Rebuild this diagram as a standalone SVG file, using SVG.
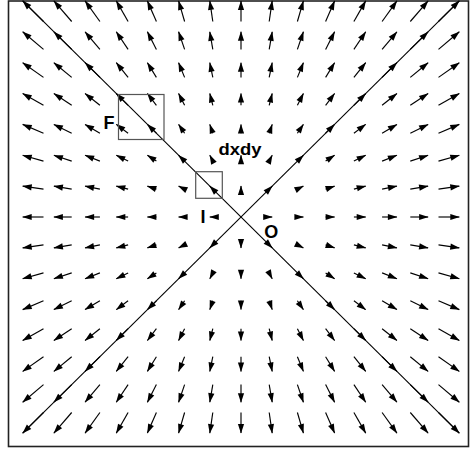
<svg xmlns="http://www.w3.org/2000/svg" width="470" height="453" viewBox="0 0 470 453">
<style>
.f path{stroke:#000;stroke-width:1.15;fill:none;marker-end:url(#ah)}
.sep line{stroke:#000;stroke-width:1.1}
.box{fill:none;stroke:#555;stroke-width:1.2}
.lbl{font-family:"Liberation Sans",Arial,sans-serif;font-weight:bold;font-size:18px;fill:#000}
</style>
<defs>
<marker id="ah" markerUnits="userSpaceOnUse" markerWidth="12" markerHeight="8" viewBox="-10 -4 12 8" refX="0" refY="0" orient="auto" overflow="visible">
<path d="M0.5 0L-9 -3.1L-9 3.1Z" fill="#000"/>
</marker>
</defs>
<rect width="470" height="453" fill="#fff"/>
<rect id="frame" x="8.5" y="1" width="460" height="445.5" fill="none" stroke="#222" stroke-width="1.6"/>
<g id="field" class="f">
<path d="M43.5 21.5L22.7 .9"/><path d="M71.7 21.5L53.9 .9"/><path d="M99.9 21.5L85.1 .9"/><path d="M128.1 21.5L116.3 .9"/><path d="M156.4 21.5L147.4 .9"/><path d="M184.6 21.5L178.6 .9"/><path d="M212.8 21.5L209.8 .9"/><path d="M241 21.5L241 .9"/><path d="M269.2 21.5L272.2 .9"/><path d="M297.4 21.5L303.4 .9"/><path d="M325.6 21.5L334.6 .9"/><path d="M353.9 21.5L365.7 .9"/><path d="M382.1 21.5L396.9 .9"/><path d="M410.3 21.5L428.1 .9"/><path d="M438.5 21.5L459.3 .9"/>
<path d="M43.5 49.4L22.7 31.8"/><path d="M71.7 49.4L53.9 31.8"/><path d="M99.9 49.4L85.1 31.8"/><path d="M128.1 49.4L116.3 31.8"/><path d="M156.4 49.4L147.4 31.8"/><path d="M184.6 49.4L178.6 31.8"/><path d="M212.8 49.4L209.8 31.8"/><path d="M241 49.4L241 31.8"/><path d="M269.2 49.4L272.2 31.8"/><path d="M297.4 49.4L303.4 31.8"/><path d="M325.6 49.4L334.6 31.8"/><path d="M353.9 49.4L365.7 31.8"/><path d="M382.1 49.4L396.9 31.8"/><path d="M410.3 49.4L428.1 31.8"/><path d="M438.5 49.4L459.3 31.8"/>
<path d="M43.5 77.4L22.7 62.7"/><path d="M71.7 77.4L53.9 62.7"/><path d="M99.9 77.4L85.1 62.7"/><path d="M128.1 77.4L116.3 62.7"/><path d="M156.4 77.4L147.4 62.7"/><path d="M184.6 77.4L178.6 62.7"/><path d="M212.8 77.4L209.8 62.7"/><path d="M241 77.4L241 62.7"/><path d="M269.2 77.4L272.2 62.7"/><path d="M297.4 77.4L303.4 62.7"/><path d="M325.6 77.4L334.6 62.7"/><path d="M353.9 77.4L365.7 62.7"/><path d="M382.1 77.4L396.9 62.7"/><path d="M410.3 77.4L428.1 62.7"/><path d="M438.5 77.4L459.3 62.7"/>
<path d="M43.5 105.3L22.7 93.5"/><path d="M71.7 105.3L53.9 93.5"/><path d="M99.9 105.3L85.1 93.5"/><path d="M128.1 105.3L116.3 93.5"/><path d="M156.4 105.3L147.4 93.5"/><path d="M184.6 105.3L178.6 93.5"/><path d="M212.8 105.3L209.8 93.5"/><path d="M241 105.3L241 93.5"/><path d="M269.2 105.3L272.2 93.5"/><path d="M297.4 105.3L303.4 93.5"/><path d="M325.6 105.3L334.6 93.5"/><path d="M353.9 105.3L365.7 93.5"/><path d="M382.1 105.3L396.9 93.5"/><path d="M410.3 105.3L428.1 93.5"/><path d="M438.5 105.3L459.3 93.5"/>
<path d="M43.5 133.2L22.7 124.4"/><path d="M71.7 133.2L53.9 124.4"/><path d="M99.9 133.2L85.1 124.4"/><path d="M128.1 133.2L116.3 124.4"/><path d="M156.4 133.2L147.4 124.4"/><path d="M184.6 133.2L178.6 124.4"/><path d="M212.8 133.2L209.8 124.4"/><path d="M241 133.2L241 124.4"/><path d="M269.2 133.2L272.2 124.4"/><path d="M297.4 133.2L303.4 124.4"/><path d="M325.6 133.2L334.6 124.4"/><path d="M353.9 133.2L365.7 124.4"/><path d="M382.1 133.2L396.9 124.4"/><path d="M410.3 133.2L428.1 124.4"/><path d="M438.5 133.2L459.3 124.4"/>
<path d="M43.5 161.1L22.7 155.3"/><path d="M71.7 161.1L53.9 155.3"/><path d="M99.9 161.1L85.1 155.3"/><path d="M128.1 161.1L116.3 155.3"/><path d="M156.4 161.1L147.4 155.3"/><path d="M184.6 161.1L178.6 155.3"/><path d="M212.8 161.1L209.8 155.3"/><path d="M241 161.1L241 155.3"/><path d="M269.2 161.1L272.2 155.3"/><path d="M297.4 161.1L303.4 155.3"/><path d="M325.6 161.1L334.6 155.3"/><path d="M353.9 161.1L365.7 155.3"/><path d="M382.1 161.1L396.9 155.3"/><path d="M410.3 161.1L428.1 155.3"/><path d="M438.5 161.1L459.3 155.3"/>
<path d="M43.5 189.1L22.7 186.1"/><path d="M71.7 189.1L53.9 186.1"/><path d="M99.9 189.1L85.1 186.1"/><path d="M128.1 189.1L116.3 186.1"/><path d="M156.4 189.1L147.4 186.1"/><path d="M184.6 189.1L178.6 186.1"/><path d="M212.8 189.1L209.8 186.1"/><path d="M241 189.1L241 186.1"/><path d="M269.2 189.1L272.2 186.1"/><path d="M297.4 189.1L303.4 186.1"/><path d="M325.6 189.1L334.6 186.1"/><path d="M353.9 189.1L365.7 186.1"/><path d="M382.1 189.1L396.9 186.1"/><path d="M410.3 189.1L428.1 186.1"/><path d="M438.5 189.1L459.3 186.1"/>
<path d="M43.5 217L22.7 217"/><path d="M71.7 217L53.9 217"/><path d="M99.9 217L85.1 217"/><path d="M128.1 217L116.3 217"/><path d="M156.4 217L147.4 217"/><path d="M184.6 217L178.6 217"/><path d="M212.8 217L209.8 217"/><path d="M269.2 217L272.2 217"/><path d="M297.4 217L303.4 217"/><path d="M325.6 217L334.6 217"/><path d="M353.9 217L365.7 217"/><path d="M382.1 217L396.9 217"/><path d="M410.3 217L428.1 217"/><path d="M438.5 217L459.3 217"/>
<path d="M43.5 244.9L22.7 247.9"/><path d="M71.7 244.9L53.9 247.9"/><path d="M99.9 244.9L85.1 247.9"/><path d="M128.1 244.9L116.3 247.9"/><path d="M156.4 244.9L147.4 247.9"/><path d="M184.6 244.9L178.6 247.9"/><path d="M212.8 244.9L209.8 247.9"/><path d="M241 244.9L241 247.9"/><path d="M269.2 244.9L272.2 247.9"/><path d="M297.4 244.9L303.4 247.9"/><path d="M325.6 244.9L334.6 247.9"/><path d="M353.9 244.9L365.7 247.9"/><path d="M382.1 244.9L396.9 247.9"/><path d="M410.3 244.9L428.1 247.9"/><path d="M438.5 244.9L459.3 247.9"/>
<path d="M43.5 272.9L22.7 278.7"/><path d="M71.7 272.9L53.9 278.7"/><path d="M99.9 272.9L85.1 278.7"/><path d="M128.1 272.9L116.3 278.7"/><path d="M156.4 272.9L147.4 278.7"/><path d="M184.6 272.9L178.6 278.7"/><path d="M212.8 272.9L209.8 278.7"/><path d="M241 272.9L241 278.7"/><path d="M269.2 272.9L272.2 278.7"/><path d="M297.4 272.9L303.4 278.7"/><path d="M325.6 272.9L334.6 278.7"/><path d="M353.9 272.9L365.7 278.7"/><path d="M382.1 272.9L396.9 278.7"/><path d="M410.3 272.9L428.1 278.7"/><path d="M438.5 272.9L459.3 278.7"/>
<path d="M43.5 300.8L22.7 309.6"/><path d="M71.7 300.8L53.9 309.6"/><path d="M99.9 300.8L85.1 309.6"/><path d="M128.1 300.8L116.3 309.6"/><path d="M156.4 300.8L147.4 309.6"/><path d="M184.6 300.8L178.6 309.6"/><path d="M212.8 300.8L209.8 309.6"/><path d="M241 300.8L241 309.6"/><path d="M269.2 300.8L272.2 309.6"/><path d="M297.4 300.8L303.4 309.6"/><path d="M325.6 300.8L334.6 309.6"/><path d="M353.9 300.8L365.7 309.6"/><path d="M382.1 300.8L396.9 309.6"/><path d="M410.3 300.8L428.1 309.6"/><path d="M438.5 300.8L459.3 309.6"/>
<path d="M43.5 328.7L22.7 340.5"/><path d="M71.7 328.7L53.9 340.5"/><path d="M99.9 328.7L85.1 340.5"/><path d="M128.1 328.7L116.3 340.5"/><path d="M156.4 328.7L147.4 340.5"/><path d="M184.6 328.7L178.6 340.5"/><path d="M212.8 328.7L209.8 340.5"/><path d="M241 328.7L241 340.5"/><path d="M269.2 328.7L272.2 340.5"/><path d="M297.4 328.7L303.4 340.5"/><path d="M325.6 328.7L334.6 340.5"/><path d="M353.9 328.7L365.7 340.5"/><path d="M382.1 328.7L396.9 340.5"/><path d="M410.3 328.7L428.1 340.5"/><path d="M438.5 328.7L459.3 340.5"/>
<path d="M43.5 356.7L22.7 371.4"/><path d="M71.7 356.7L53.9 371.4"/><path d="M99.9 356.7L85.1 371.4"/><path d="M128.1 356.7L116.3 371.4"/><path d="M156.4 356.7L147.4 371.4"/><path d="M184.6 356.7L178.6 371.4"/><path d="M212.8 356.7L209.8 371.4"/><path d="M241 356.7L241 371.4"/><path d="M269.2 356.7L272.2 371.4"/><path d="M297.4 356.7L303.4 371.4"/><path d="M325.6 356.7L334.6 371.4"/><path d="M353.9 356.7L365.7 371.4"/><path d="M382.1 356.7L396.9 371.4"/><path d="M410.3 356.7L428.1 371.4"/><path d="M438.5 356.7L459.3 371.4"/>
<path d="M43.5 384.6L22.7 402.2"/><path d="M71.7 384.6L53.9 402.2"/><path d="M99.9 384.6L85.1 402.2"/><path d="M128.1 384.6L116.3 402.2"/><path d="M156.4 384.6L147.4 402.2"/><path d="M184.6 384.6L178.6 402.2"/><path d="M212.8 384.6L209.8 402.2"/><path d="M241 384.6L241 402.2"/><path d="M269.2 384.6L272.2 402.2"/><path d="M297.4 384.6L303.4 402.2"/><path d="M325.6 384.6L334.6 402.2"/><path d="M353.9 384.6L365.7 402.2"/><path d="M382.1 384.6L396.9 402.2"/><path d="M410.3 384.6L428.1 402.2"/><path d="M438.5 384.6L459.3 402.2"/>
<path d="M43.5 412.5L22.7 433.1"/><path d="M71.7 412.5L53.9 433.1"/><path d="M99.9 412.5L85.1 433.1"/><path d="M128.1 412.5L116.3 433.1"/><path d="M156.4 412.5L147.4 433.1"/><path d="M184.6 412.5L178.6 433.1"/><path d="M212.8 412.5L209.8 433.1"/><path d="M241 412.5L241 433.1"/><path d="M269.2 412.5L272.2 433.1"/><path d="M297.4 412.5L303.4 433.1"/><path d="M325.6 412.5L334.6 433.1"/><path d="M353.9 412.5L365.7 433.1"/><path d="M382.1 412.5L396.9 433.1"/><path d="M410.3 412.5L428.1 433.1"/><path d="M438.5 412.5L459.3 433.1"/>
</g>
<g id="separatrices" class="sep">
<line x1="22.7" y1="0.9" x2="459.3" y2="433.1"/>
<line x1="22.7" y1="433.1" x2="459.3" y2="0.9"/>
</g>
<g id="box-F"><rect class="box" x="118.5" y="94.5" width="45.5" height="45"/><text class="lbl" x="103.5" y="128.5">F</text></g>
<g id="box-dxdy"><rect class="box" x="195.7" y="171.7" width="26.6" height="26.6"/><text class="lbl" x="218.5" y="154.5" style="font-size:16px" textLength="43" lengthAdjust="spacingAndGlyphs">dxdy</text></g>
<g id="label-I"><text class="lbl" x="200.5" y="222.7">I</text></g>
<g id="label-O"><text class="lbl" x="264.3" y="238.3">O</text></g>
</svg>
